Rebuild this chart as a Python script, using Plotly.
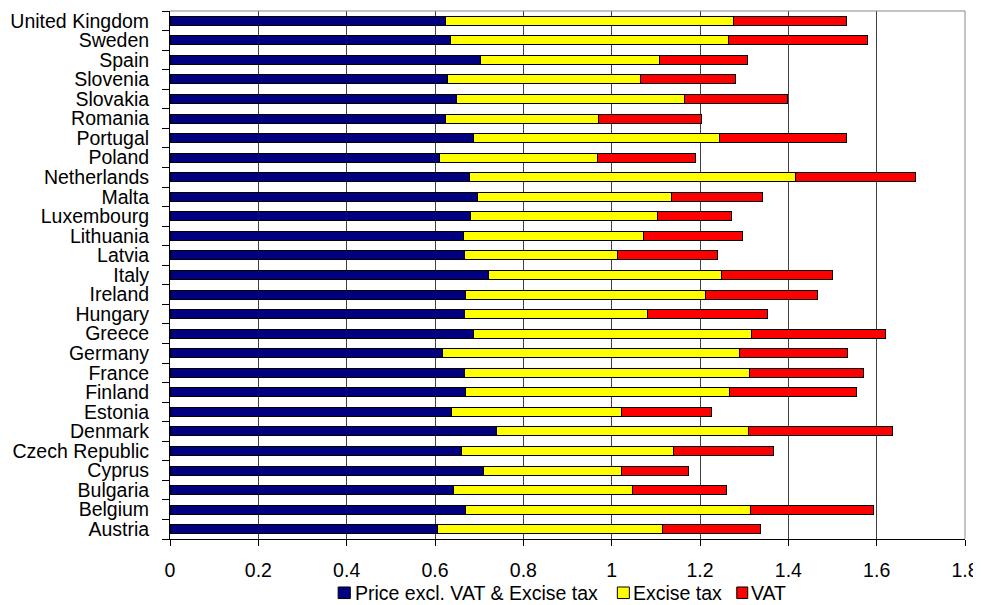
import plotly.graph_objects as go

countries = ["Austria", "Belgium", "Bulgaria", "Cyprus", "Czech Republic", "Denmark",
             "Estonia", "Finland", "France", "Germany", "Greece", "Hungary", "Ireland",
             "Italy", "Latvia", "Lithuania", "Luxembourg", "Malta", "Netherlands",
             "Poland", "Portugal", "Romania", "Slovakia", "Slovenia", "Spain", "Sweden",
             "United Kingdom"]

price_excl = [0.605, 0.669, 0.643, 0.710, 0.660, 0.740,
              0.638, 0.668, 0.666, 0.617, 0.688, 0.666, 0.668,
              0.721, 0.666, 0.664, 0.681, 0.696, 0.678,
              0.611, 0.688, 0.623, 0.648, 0.628, 0.703, 0.636,
              0.624]

excise_tax = [0.509, 0.646, 0.405, 0.313, 0.479, 0.570,
              0.384, 0.598, 0.647, 0.672, 0.629, 0.415, 0.544,
              0.528, 0.348, 0.408, 0.423, 0.439, 0.739,
              0.356, 0.556, 0.348, 0.516, 0.438, 0.405, 0.628,
              0.651]

vat = [0.223, 0.277, 0.211, 0.152, 0.228, 0.325,
       0.203, 0.289, 0.257, 0.245, 0.304, 0.271, 0.253,
       0.250, 0.226, 0.225, 0.167, 0.206, 0.270,
       0.222, 0.287, 0.233, 0.233, 0.214, 0.199, 0.316,
       0.257]

series_names = ["Price excl. VAT & Excise tax", "Excise tax", "VAT"]
x_ticks = [0, 0.2, 0.4, 0.6, 0.8, 1, 1.2, 1.4, 1.6, 1.8]
x_tick_labels = ["0", "0.2", "0.4", "0.6", "0.8", "1", "1.2", "1.4", "1.6", "1.8"]

colors = ["#000080", "#FFFF00", "#FF0000"]
FONT = "Liberation Sans, Arial, sans-serif"
FS = 19.5

fig = go.Figure()
for name, vals, col in zip(series_names, [price_excl, excise_tax, vat], colors):
    fig.add_trace(go.Bar(
        y=countries, x=vals, name=name, orientation="h",
        marker=dict(color=col, line=dict(color="#000000", width=1)),
    ))

# custom legend (square swatches with black border + text), in plot-paper coords
leg_sq_x = [(0.2115, 0.2268), (0.5627, 0.5778), (0.7129, 0.7267)]
leg_txt_x = [0.2300, 0.5795, 0.7280]
leg_y0, leg_y1, leg_ty = -0.1128, -0.0909, -0.1023

shapes = [
    dict(type="line", xref="paper", yref="paper", x0=0, x1=1, y0=1, y1=1,
         line=dict(color="#888888", width=1)),
    dict(type="line", xref="paper", yref="paper", x0=1, x1=1, y0=0, y1=1,
         line=dict(color="#888888", width=1)),
]
annotations = []
for (sx0, sx1), tx, name, col in zip(leg_sq_x, leg_txt_x, series_names, colors):
    shapes.append(dict(type="rect", xref="paper", yref="paper", x0=sx0, x1=sx1,
                       y0=leg_y0, y1=leg_y1, fillcolor=col,
                       line=dict(color="#000000", width=1)))
    annotations.append(dict(xref="paper", yref="paper", x=tx, y=leg_ty, text=name,
                            showarrow=False, xanchor="left", yanchor="middle",
                            font=dict(family=FONT, size=FS, color="#000000")))

# page body has an 8px margin, so the figure is 8px smaller and offset
fig.update_layout(
    barmode="stack",
    bargap=0.54,
    width=973, height=597,
    margin=dict(l=162, r=16, t=3, b=66, autoexpand=False),
    paper_bgcolor="white",
    plot_bgcolor="white",
    font=dict(family=FONT, size=FS, color="#000000"),
    showlegend=False,
    xaxis=dict(range=[0, 1.8], tickmode="array", tickvals=x_ticks, ticktext=x_tick_labels,
               showgrid=True, gridcolor="#404040", gridwidth=1,
               showline=True, linecolor="#000000", linewidth=1,
               ticks="outside", ticklen=6, tickcolor="#000000",
               ticklabelstandoff=8, zeroline=False, fixedrange=True, automargin=False),
    yaxis=dict(type="category", categoryorder="array", categoryarray=countries,
               tickmode="array", tickvals=countries, ticktext=countries,
               showgrid=False, showline=True, linecolor="#000000", linewidth=1,
               ticks="outside", ticklen=7, tickcolor="#000000", tickson="boundaries",
               ticklabelstandoff=16, fixedrange=True, automargin=False),
    shapes=shapes,
    annotations=annotations,
)

fig.write_html("out.html")
